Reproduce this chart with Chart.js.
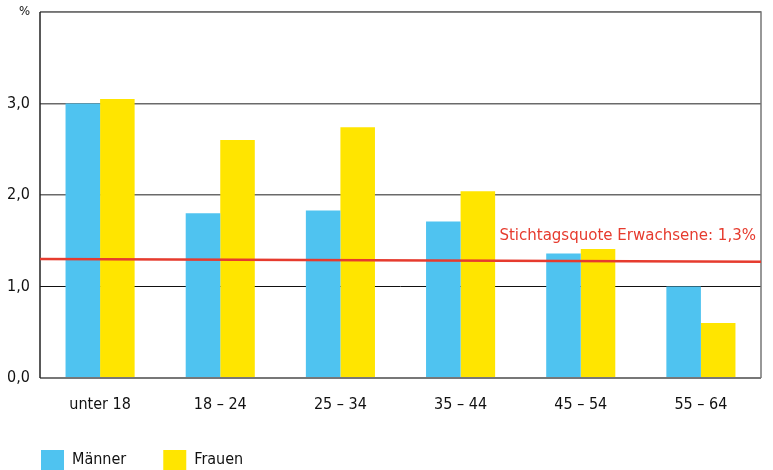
<!DOCTYPE html>
<html><head><meta charset="utf-8">
<script src="https://cdn.jsdelivr.net/npm/chart.js@4"></script>
<style>html,body{margin:0;padding:0;background:#fff;overflow:hidden}#wrap{position:relative;width:773px;height:470px}</style>
</head><body><div id="wrap"><canvas id="c" width="773" height="470"></canvas></div>
<script>
const categories = ['unter 18', '18 – 24', '25 – 34', '35 – 44', '45 – 54', '55 – 64'];
const maenner = [3.00, 1.80, 1.83, 1.71, 1.36, 1.00];
const frauen  = [3.05, 2.60, 2.74, 2.04, 1.41, 0.60];
const quoteLine = [1.30, 1.27];   // Stichtagsquote, left and right end
const quoteLabel = 'Stichtagsquote Erwachsene: 1,3%';
const seriesNames = ['Männer', 'Frauen'];
const yTicks = [0, 1, 2, 3, 4];

const FONT = '"DejaVu Sans Condensed", "DejaVu Sans", sans-serif';
const RED = '#E63B2E';

const overlay = {
  id: 'overlay',
  afterLayout(chart) {
    if (chart.legend) { chart.legend.left += 4; chart.legend.right += 4; }
  },
  afterDatasetsDraw(chart) {
    const {ctx, chartArea: a} = chart;
    const ys = chart.scales.y;
    ctx.save();
    // frame
    ctx.strokeStyle = '#777';
    ctx.lineWidth = 1.5;
    ctx.beginPath();
    ctx.moveTo(a.left, a.top); ctx.lineTo(a.right, a.top); ctx.lineTo(a.right, a.bottom);
    ctx.stroke();
    ctx.lineWidth = 2;
    ctx.beginPath(); ctx.moveTo(a.left, a.bottom); ctx.lineTo(a.right, a.bottom); ctx.stroke();
    ctx.strokeStyle = '#222'; ctx.lineWidth = 1.5;
    ctx.beginPath(); ctx.moveTo(a.left, a.top); ctx.lineTo(a.left, a.bottom); ctx.stroke();
    // reference line (Stichtagsquote)
    const y0 = ys.getPixelForValue(quoteLine[0]);
    const y1 = ys.getPixelForValue(quoteLine[quoteLine.length - 1]);
    ctx.strokeStyle = RED; ctx.lineWidth = 2.5;
    ctx.beginPath(); ctx.moveTo(a.left, y0); ctx.lineTo(a.right, y1); ctx.stroke();
    // label
    ctx.fillStyle = RED;
    ctx.font = '16.7px ' + FONT;
    ctx.textAlign = 'right';
    ctx.textBaseline = 'alphabetic';
    ctx.fillText(quoteLabel, a.right - 5, y1 - 22);
    ctx.restore();
  }
};

new Chart(document.getElementById('c'), {
  type: 'bar',
  data: {
    labels: categories,
    datasets: [
      { label: seriesNames[0], data: maenner, backgroundColor: '#4FC3F0', borderWidth: 0,
        categoryPercentage: 0.575, barPercentage: 1.0 },
      { label: seriesNames[1], data: frauen, backgroundColor: '#FFE500', borderWidth: 0,
        categoryPercentage: 0.575, barPercentage: 1.0 }
    ]
  },
  options: {
    responsive: false, animation: false,
    layout: { padding: { top: 12, right: 12, left: 0, bottom: -10 } },
    plugins: {
      tooltip: { enabled: false },
      legend: {
        position: 'bottom', align: 'start',
        labels: {
          boxWidth: 23, boxHeight: 20, padding: 37,
          color: '#111', font: { family: FONT, size: 16 }
        }
      }
    },
    scales: {
      x: {
        grid: { display: false, drawTicks: false },
        border: { display: false },
        ticks: { color: '#111', font: { family: FONT, size: 16 }, padding: 17 },
        afterFit(s) { s.height = 35; }
      },
      y: {
        min: 0, max: 4,
        afterBuildTicks(s) { s.ticks = yTicks.map(v => ({value: v})); },
        grid: {
          color: (c) => c.tick && c.tick.value === 1 ? '#111' : '#6a6a6a',
          lineWidth: (c) => c.tick && c.tick.value === 1 ? 1 : 1.5,
          drawTicks: false
        },
        border: { display: false },
        ticks: {
          color: '#111', padding: 10,
          font: (c) => ({ family: FONT, size: c.tick && c.tick.value === 4 ? 13 : 16 }),
          callback: (v) => v === 4 ? '%' : v.toFixed(1).replace('.', ',')
        },
        afterFit(s) { s.width = 40; s.paddingTop = 0; s.paddingBottom = 0; }
      }
    }
  },
  plugins: [overlay]
});
</script></body></html>
